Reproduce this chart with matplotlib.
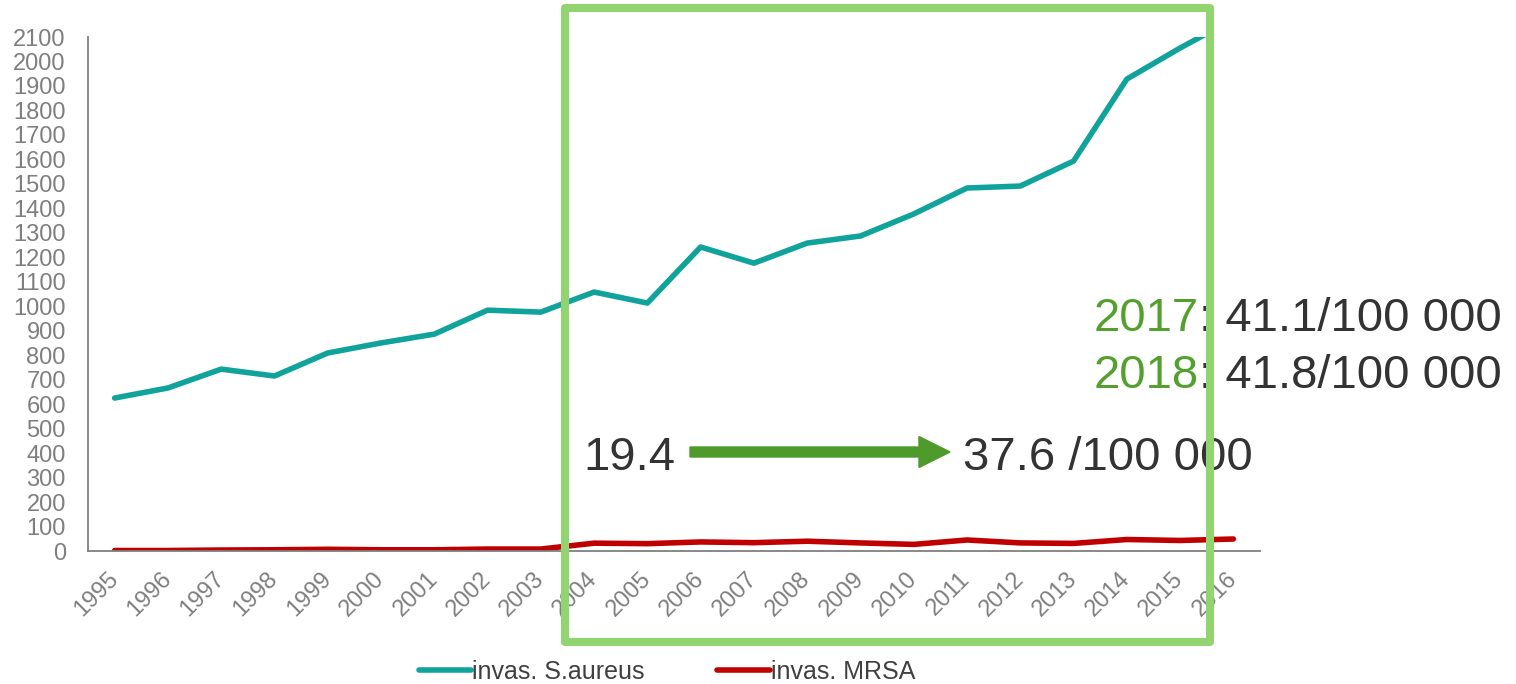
import matplotlib
matplotlib.use("Agg")
import matplotlib.pyplot as plt
import matplotlib.patches as mpatches

plt.rcParams['font.family'] = ['Liberation Sans', 'DejaVu Sans']

years = [str(y) for y in range(1995, 2017)]
s_aureus = [625, 666, 743, 715, 809, 850, 886, 984, 976, 1058, 1013,
            1242, 1176, 1258, 1287, 1377, 1483, 1491, 1593, 1928, 2055, 2173]
mrsa = [2, 2, 4, 5, 7, 5, 5, 8, 8, 32, 30, 37, 34, 40, 33, 27, 45, 33, 31, 47, 43, 49]
series_names = ["invas. S.aureus", "invas. MRSA"]
y_ticks = list(range(0, 2101, 100))

W, H = 1516, 684
fig = plt.figure(figsize=(W / 100, H / 100), dpi=100)
ax = fig.add_axes([88 / W, 1 - 551 / H, (1260 - 88) / W, (551 - 37) / H])

x = list(range(len(years)))
teal = '#0FA39B'
red = '#C00000'
ax.plot(x, s_aureus, color=teal, lw=4.0, solid_capstyle='round', label=series_names[0])
ax.plot(x, mrsa, color=red, lw=4.0, solid_capstyle='round', label=series_names[1])

ax.set_xlim(-0.5, len(years) - 0.5)
ax.set_ylim(0, 2100)
ax.set_yticks(y_ticks)
ax.set_yticklabels([str(v) for v in y_ticks])
ax.set_xticks(x)
ax.set_xticklabels(years, rotation=45, ha='right', va='center', rotation_mode='anchor')

gray = '#7F7F7F'
for side in ['top', 'right']:
    ax.spines[side].set_visible(False)
for side in ['left', 'bottom']:
    ax.spines[side].set_color(gray)
    ax.spines[side].set_linewidth(1.3)
ax.tick_params(axis='y', length=0, pad=16, labelsize=17, labelcolor=gray)
ax.tick_params(axis='x', length=0, pad=18, labelsize=17, labelcolor=gray)

fig.legend(loc='center', bbox_to_anchor=(667 / W, 1 - 672 / H), ncol=2, frameon=False,
           fontsize=18, handlelength=2.1, handletextpad=0.05, columnspacing=2.9,
           labelcolor='#404040')

# annotations
dark = '#333333'
green_txt = '#53A02E'
fs = 34
fig.text(583 / W, 1 - 470 / H, "19.4", fontsize=fs, color=dark, ha='left', va='baseline')
fig.text(963 / W, 1 - 470 / H, "37.6 /100 000", fontsize=fs, color=dark, ha='left', va='baseline')

for yy, yr, val in [(331, "2017", ": 41.1/100 000"), (388, "2018", ": 41.8/100 000")]:
    t = fig.text(1502 / W, 1 - yy / H, val, fontsize=fs, color=dark, ha='right', va='baseline')
    fig.canvas.draw()
    bb = t.get_window_extent()
    fig.text(bb.x0 / W, 1 - yy / H, yr, fontsize=fs, color=green_txt, ha='right', va='baseline')

arrow = mpatches.FancyArrow(690 / W, 1 - 452 / H, (950 - 690) / W, 0,
                            width=10 / H, head_width=31 / H, head_length=31 / W,
                            length_includes_head=True, color='#4E9A2A',
                            transform=fig.transFigure, zorder=5)
fig.add_artist(arrow)

rect = mpatches.Rectangle((565 / W, 1 - 642 / H), (1210 - 565) / W, (642 - 8) / H,
                          fill=False, edgecolor='#92D46F', linewidth=5.8,
                          joinstyle='round', transform=fig.transFigure, zorder=10)
fig.add_artist(rect)

fig.savefig("out.png", dpi=100)
